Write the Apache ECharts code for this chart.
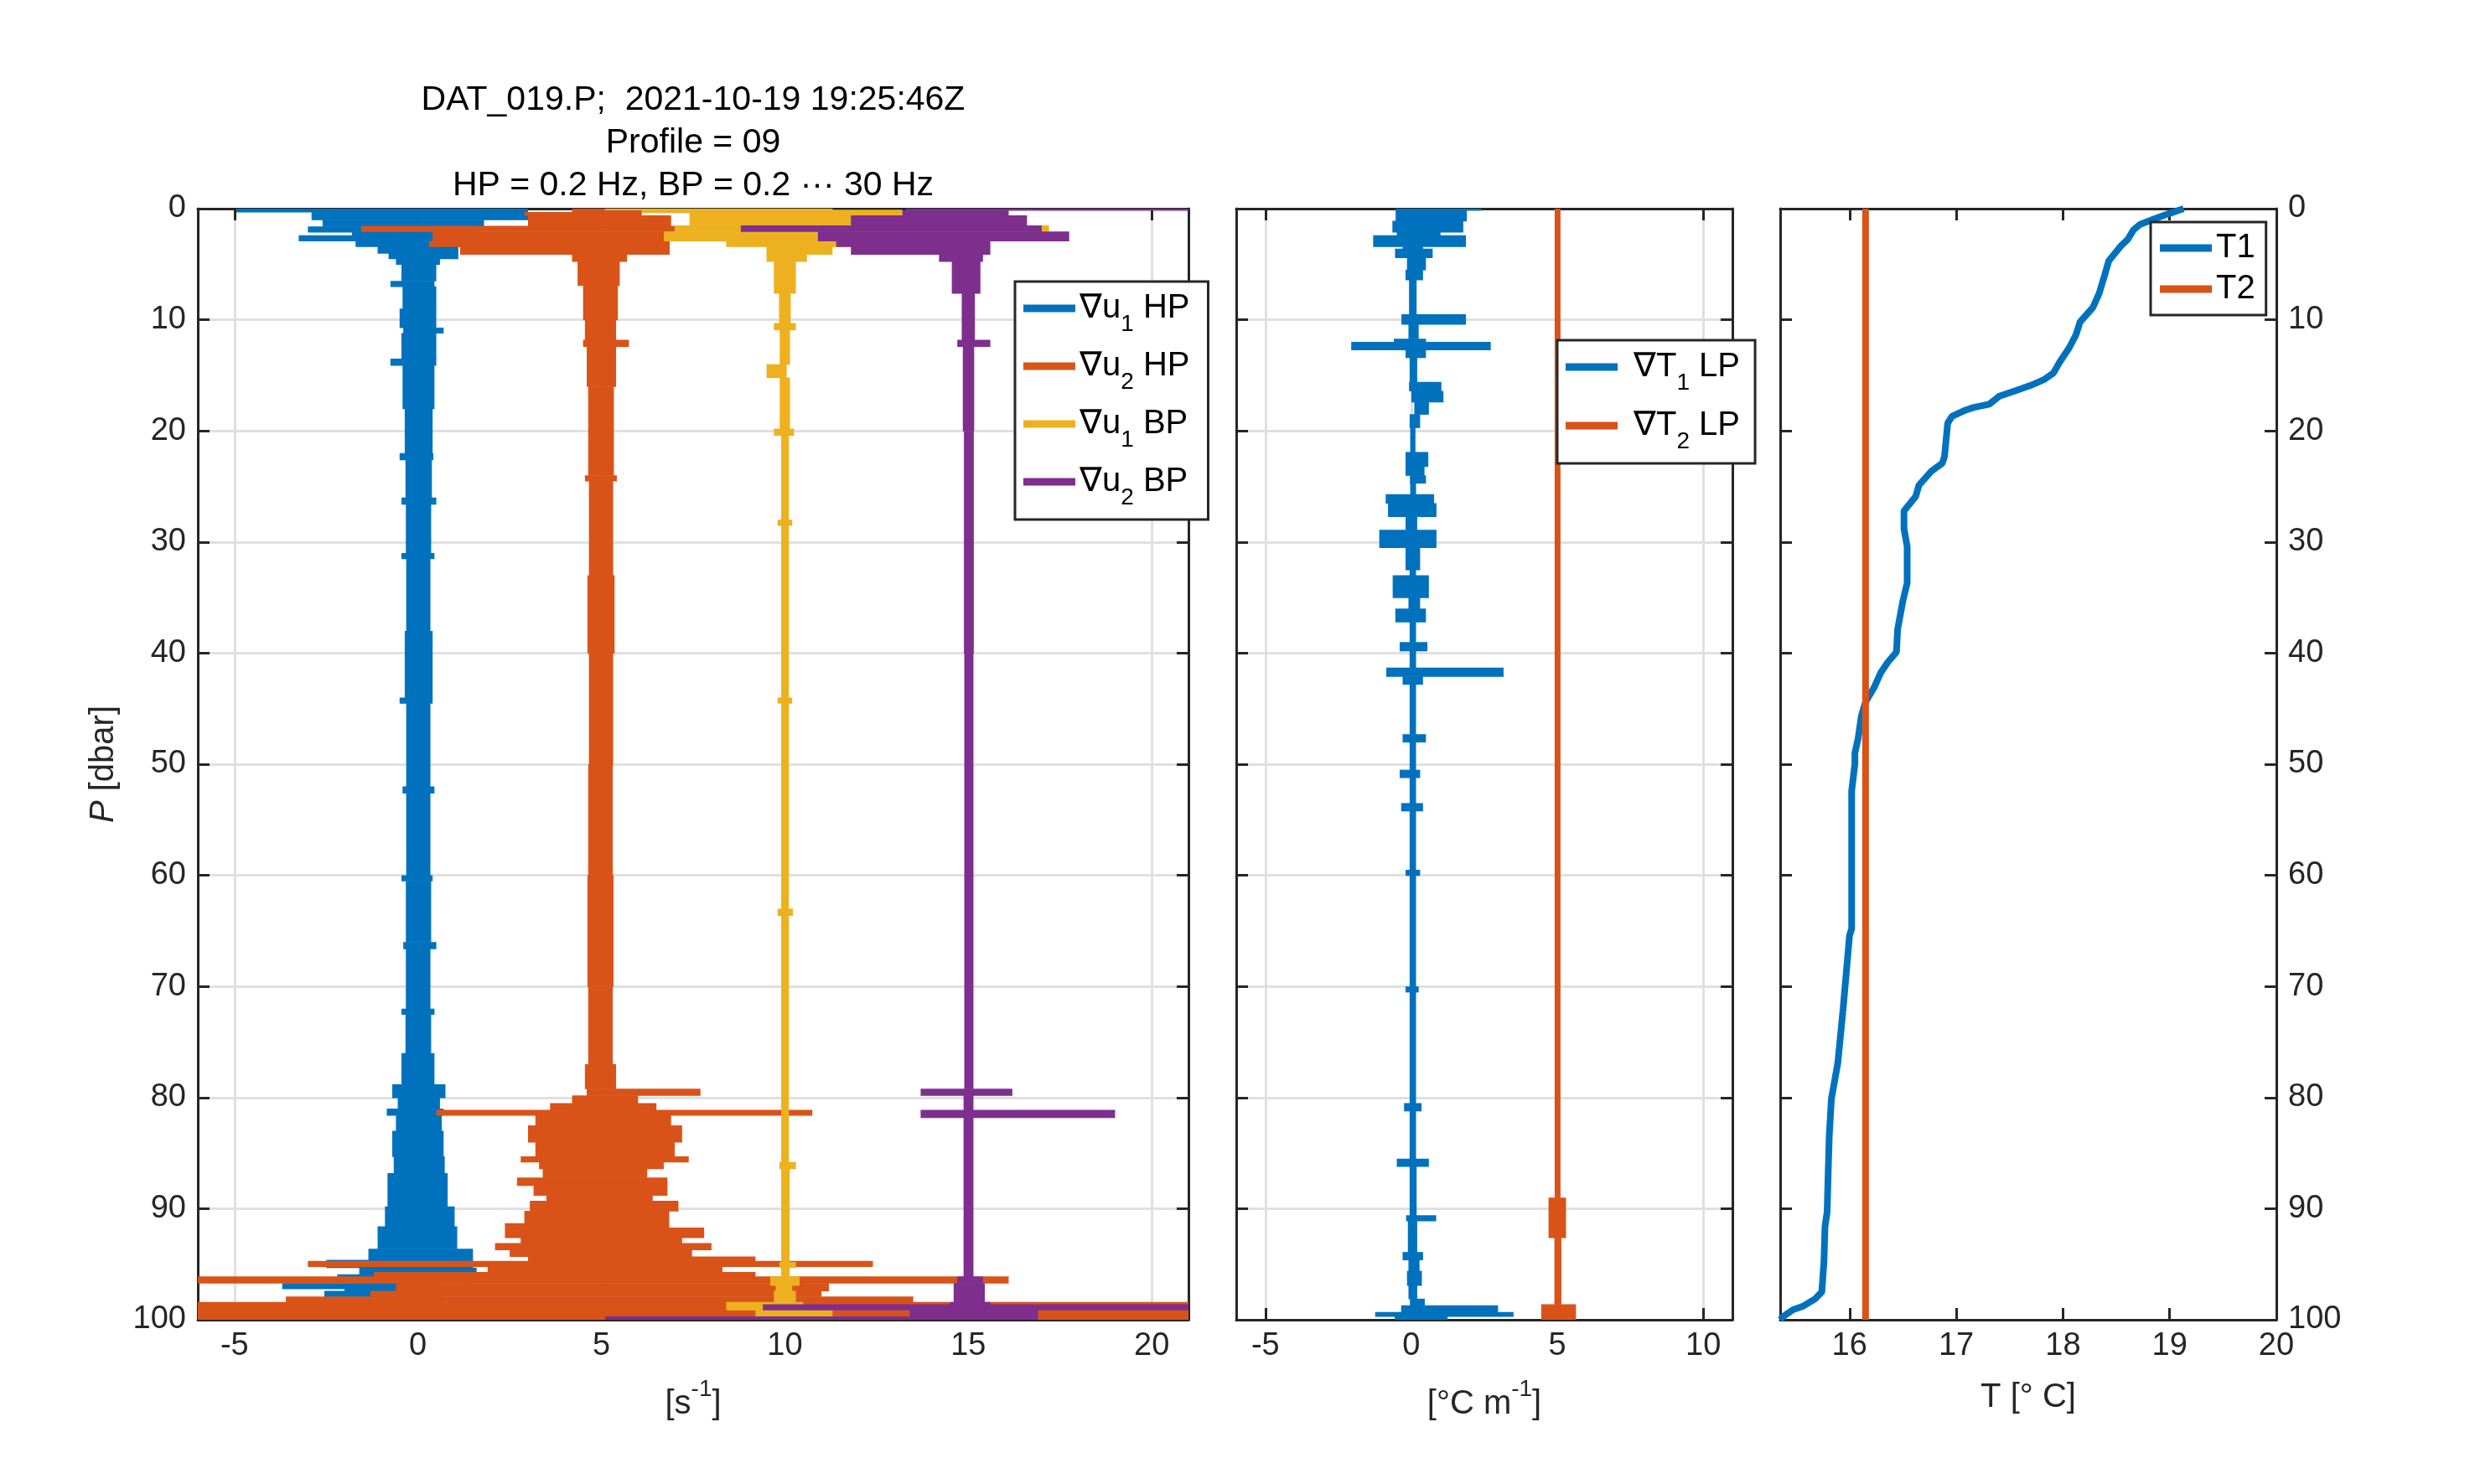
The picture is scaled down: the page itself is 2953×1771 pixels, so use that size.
<!DOCTYPE html>
<html><head><meta charset="utf-8">
<script src="https://cdn.jsdelivr.net/npm/echarts@6/dist/echarts.min.js"></script>
<style>html,body{margin:0;padding:0;background:#fff}#c{width:2953px;height:1771px}</style>
</head><body><div id="c"></div>
<script>
const FONT = '"Liberation Sans", Arial, Helvetica, sans-serif';
const C_BLUE = '#0072BD', C_ORANGE = '#D95319', C_YELLOW = '#EDB120', C_PURPLE = '#7E2F8E';
const AX = '#262626', GRIDC = '#e0e0e0';

// ---- tick labels ----
const pTicks = [0,10,20,30,40,50,60,70,80,90,100];
const shearTicks = [-5,0,5,10,15,20];
const gradTTicks = [-5,0,5,10];
const tempTicks = [16,17,18,19,20];

// ---- shear probe traces: [pressure where segment starts, left extent, right extent] ----
const u1HP = [
 [0,-4.95,3.0],[0.3,-2.9,3.0],[1.0,-2.6,1.8],[1.6,-3.0,1.6],[2.1,-1.8,1.5],[2.4,-3.25,1.5],
 [2.9,-1.7,1.9],[3.4,-1.1,1.1],[4.0,-0.8,1.1],[4.5,-0.6,0.6],[5.0,-0.45,0.5],[6.5,-0.75,0.45],
 [7.0,-0.42,0.5],[9.0,-0.5,0.5],[10.7,-0.4,0.7],[11.2,-0.45,0.5],[13.5,-0.75,0.5],[14.1,-0.42,0.45],
 [18.0,-0.36,0.4],[22.0,-0.5,0.42],[22.6,-0.34,0.38],[26.0,-0.45,0.5],[26.6,-0.33,0.36],
 [31.0,-0.45,0.45],[31.5,-0.32,0.34],[38.0,-0.36,0.4],[44.0,-0.5,0.4],[44.5,-0.32,0.34],
 [52.0,-0.42,0.45],[52.6,-0.32,0.34],[60.0,-0.45,0.4],[60.5,-0.33,0.36],[66.0,-0.4,0.5],
 [66.6,-0.33,0.34],[72.0,-0.45,0.45],[72.5,-0.34,0.36],[76.0,-0.45,0.45],[78.8,-0.7,0.75],
 [80.0,-0.55,0.6],[81.0,-0.85,0.7],[81.6,-0.6,0.65],[83.0,-0.7,0.7],[85.3,-0.66,0.73],
 [86.8,-0.83,0.81],[89.8,-0.9,1.0],[91.6,-1.1,1.07],[93.6,-1.35,1.5],[94.6,-2.5,1.5],
 [95.3,-1.6,1.6],[95.9,-2.2,1.4],[96.7,-3.7,0.55],[97.2,-2.0,0.6],[97.4,-2.55,0.7],
 [98.0,-1.5,0.8],[98.4,-1.0,1.0]
];
const u2HP = [
 [0,4.2,6.5],[0.3,2.9,6.1],[0.6,3.0,6.9],[1.55,-1.55,7.0],[2.05,0.4,6.8],[2.9,0.3,6.86],
 [3.4,1.15,6.86],[4.1,4.2,5.7],[4.75,4.35,5.5],[6.9,4.5,5.45],[10.0,4.55,5.4],[11.8,4.5,5.75],
 [12.4,4.6,5.4],[16.0,4.64,5.34],[24.0,4.55,5.42],[24.5,4.66,5.32],[33.0,4.62,5.36],
 [40.0,4.66,5.32],[50.0,4.64,5.31],[60.0,4.62,5.33],[70.0,4.64,5.31],[77.0,4.55,5.4],
 [79.2,4.6,7.7],[79.8,4.2,6.0],[80.5,3.6,6.5],[81.1,0.5,10.75],[81.6,3.2,6.9],[82.5,3.0,7.2],
 [84.0,3.2,7.0],[85.3,2.8,7.38],[85.8,3.3,6.7],[86.4,3.4,6.25],[87.2,2.7,6.8],[87.9,3.15,6.8],
 [88.8,3.5,6.4],[89.3,3.05,7.1],[90.2,2.9,6.85],[91.3,2.37,6.85],[91.7,2.37,7.8],[92.6,2.8,7.2],
 [93.1,2.1,8.0],[93.7,2.5,7.47],[94.3,3.0,9.2],[94.7,-3.0,12.4],[95.2,1.9,8.3],[95.7,-1.2,9.2],
 [96.1,-6.0,16.1],[96.7,-0.6,11.2],[97.4,-1.3,11.0],[97.9,-3.6,13.5],[98.4,-6.0,21.0]
];
const u1BP = [
 [0,5.1,11.3],[0.1,6.1,13.2],[0.35,7.4,13.2],[1.5,7.0,17.2],[2.05,6.7,11.8],[2.9,8.4,11.8],
 [3.4,9.5,11.3],[4.1,9.5,10.6],[4.75,9.7,10.3],[7.6,9.84,10.16],[10.3,9.7,10.3],[10.9,9.86,10.14],
 [14.0,9.5,10.05],[15.2,9.86,10.14],[19.8,9.7,10.25],[20.4,9.9,10.11],[28.0,9.8,10.2],
 [28.5,9.9,10.11],[44.0,9.8,10.2],[44.5,9.9,10.11],[63.0,9.8,10.22],[63.6,9.9,10.11],
 [85.8,9.85,10.3],[86.4,9.9,10.13],[94.8,9.85,10.3],[95.3,9.9,10.13],[96.1,9.6,10.4],
 [96.9,9.75,10.2],[97.4,9.7,10.3],[98.4,8.4,10.5],[99.1,9.2,11.3],[99.7,9.5,10.5]
];
const u2BP = [
 [0,13.3,21.0],[0.15,13.2,16.1],[0.6,11.8,16.6],[1.5,8.8,17.0],[2.05,10.9,17.75],[2.9,11.4,15.6],
 [3.4,11.8,15.6],[4.1,14.2,15.4],[4.75,14.55,15.33],[7.6,14.82,15.18],[11.8,14.7,15.6],
 [12.4,14.85,15.16],[20.0,14.88,15.15],[40.0,14.89,15.14],[60.0,14.89,15.14],[79.2,13.7,16.2],
 [79.8,14.87,15.14],[81.1,13.7,19.0],[81.8,14.87,15.14],[96.1,14.7,15.4],[96.7,14.6,15.45],
 [98.4,14.5,15.6],[98.6,9.4,21.0],[99.1,13.4,16.9],[99.7,5.1,16.9]
];

// ---- temperature gradient traces ----
const dT1 = [
 [0,-0.55,2.4],[0.15,-0.54,1.9],[1.1,-0.65,1.78],[2.1,-0.5,1.0],[2.4,-1.31,1.87],[3.4,-0.3,0.4],
 [3.6,-0.56,0.73],[4.4,-0.15,0.5],[5.5,-0.2,0.4],[6.4,-0.08,0.18],[9.5,-0.34,1.87],[10.4,-0.1,0.25],
 [11.7,-0.6,0.5],[12.0,-2.06,2.72],[12.7,-0.2,0.5],[13.4,-0.06,0.2],[15.6,-0.08,1.03],
 [16.4,0.0,1.1],[17.4,0.1,0.6],[18.5,-0.06,0.3],[19.7,-0.04,0.14],[21.9,-0.2,0.58],
 [23.2,-0.2,0.45],[24.0,-0.05,0.5],[24.7,-0.04,0.16],[25.7,-0.88,0.78],[26.5,-0.8,0.86],
 [27.7,-0.2,0.2],[28.9,-1.1,0.86],[30.5,-0.2,0.3],[32.5,-0.06,0.16],[33.0,-0.64,0.6],
 [35.0,-0.1,0.3],[36.0,-0.55,0.5],[37.2,-0.06,0.16],[39.0,-0.4,0.55],[39.8,-0.06,0.16],
 [41.3,-0.86,3.16],[42.1,-0.3,0.4],[42.8,-0.06,0.16],[47.3,-0.3,0.5],[48.0,-0.06,0.16],
 [50.5,-0.4,0.3],[51.2,-0.06,0.16],[53.5,-0.35,0.4],[54.2,-0.06,0.16],[59.5,-0.2,0.3],
 [60.0,-0.06,0.16],[70.0,-0.2,0.25],[70.5,-0.06,0.16],[80.5,-0.25,0.35],[81.2,-0.06,0.16],
 [85.5,-0.5,0.6],[86.2,-0.06,0.18],[90.6,-0.18,0.85],[91.1,-0.12,0.2],[93.9,-0.3,0.4],
 [94.6,-0.1,0.28],[95.6,-0.15,0.36],[96.9,-0.1,0.2],[98.1,-0.05,0.46],[98.7,-0.35,2.97],
 [99.3,-1.24,3.5],[99.7,-0.57,1.24]
];
const dT2 = [
 [0,4.91,5.11],[89.0,4.7,5.3],[92.6,4.9,5.14],[98.6,4.45,5.64]
];

// ---- temperature profiles ----
const T1_p = [0,0.46,0.94,1.43,1.92,2.74,3.39,4.69,6.0,7.6,8.9,10.2,11.4,12.5,13.8,14.8,15.4,15.9,16.4,16.9,
 17.6,17.9,18.2,18.7,19.3,20.3,22.3,22.9,23.6,24.9,25.9,27.2,28.8,30.4,33.7,35.3,37.9,39.9,40.8,41.8,
 43.1,44.4,45.7,47.7,49.0,50.0,52.4,58.9,64.8,65.4,68.7,72.0,76.9,78.5,80.1,83.4,86.7,90.3,91.6,94.8,
 97.5,98.1,98.8,99.1,99.7,100];
const T1_T = [19.13,18.99,18.85,18.72,18.66,18.61,18.54,18.43,18.39,18.34,18.28,18.16,18.12,18.06,17.97,17.91,
 17.82,17.70,17.55,17.40,17.31,17.16,17.07,16.96,16.92,16.91,16.89,16.87,16.77,16.65,16.62,16.51,16.51,
 16.54,16.54,16.50,16.45,16.44,16.36,16.29,16.23,16.15,16.11,16.08,16.05,16.05,16.02,16.02,16.02,16.0,
 15.97,15.94,15.89,15.86,15.83,15.81,15.80,15.79,15.77,15.76,15.74,15.68,15.56,15.47,15.38,15.35];
const T2_p = [0,100];
const T2_T = [16.15,16.15];

// ---------------------------------------------------------------
function segRects(segs){
  return segs.map((s,i)=>[s[1], s[2], s[0], i+1<segs.length ? segs[i+1][0] : 100]);
}
function envSeries(name, segs, color, axisIdx){
  return {
    type:'custom', name, xAxisIndex:axisIdx, yAxisIndex:axisIdx, clip:true, silent:true,
    itemStyle:{color}, encode:{x:[0,1], y:[2,3]}, data:segRects(segs),
    renderItem:(params, api)=>{
      const a = api.coord([api.value(0), api.value(2)]);
      const b = api.coord([api.value(1), api.value(3)]);
      const x = Math.min(a[0],b[0]), y = Math.min(a[1],b[1]);
      return {type:'rect', shape:{x, y, width:Math.max(Math.abs(b[0]-a[0]),3), height:Math.abs(b[1]-a[1])+0.6},
              style:{fill:color}};
    }
  };
}
const tickStyle = {show:true, inside:true, length:14, lineStyle:{color:AX, width:3}};
const lineStyleAx = {show:true, onZero:false, lineStyle:{color:AX, width:3}};
const splitStyle = (show)=>({show, lineStyle:{color:GRIDC, width:3}});
const fmt = (list)=> (v)=> list.includes(Math.round(v*1000)/1000) ? String(v) : '';

function xAxes(grid, min, max, iv, ticks, showSplit, name, nameGap){
  const common = {type:'value', gridIndex:grid, min, max, splitNumber:5, minInterval:iv, maxInterval:iv};
  return [
    Object.assign({}, common, {position:'bottom', axisLine:lineStyleAx, axisTick:tickStyle,
      axisLabel:{show:true, margin:13, color:AX, fontSize:38, fontFamily:FONT, formatter:fmt(ticks),
                 showMinLabel:false, showMaxLabel: ticks.includes(max)},
      splitLine:splitStyle(showSplit),
      name, nameLocation:'middle', nameGap,
      nameTextStyle:{fontSize:40, lineHeight:64, fontFamily:FONT, color:AX,
        rich:{sup:{fontSize:28, lineHeight:28, verticalAlign:'top', fontFamily:FONT, color:AX}}}}),
    Object.assign({}, common, {position:'top', axisLine:lineStyleAx, axisTick:tickStyle,
      axisLabel:{show:false}, splitLine:{show:false}})
  ];
}
function yAxes(grid, labelSide, showSplit){
  const common = {type:'value', gridIndex:grid, min:0, max:100, interval:10, inverse:true};
  const lab = (side)=>({show: labelSide===side, margin:14, color:AX, fontSize:38, fontFamily:FONT, formatter:fmt(pTicks)});
  const left = Object.assign({}, common, {position:'left', axisLine:lineStyleAx, axisTick:tickStyle,
      axisLabel:lab('left'), splitLine:splitStyle(showSplit)});
  if (grid===0) Object.assign(left, {name:'{it|P} [dbar]', nameLocation:'middle', nameGap:92,
      nameTextStyle:{fontSize:40, fontFamily:FONT, color:AX,
        rich:{it:{fontStyle:'italic', fontSize:40, fontFamily:FONT, color:AX}}}});
  return [left,
    Object.assign({}, common, {position:'right', axisLine:lineStyleAx, axisTick:tickStyle,
      axisLabel:lab('right'), splitLine:{show:false}})];
}

const legendRich = {
  n:{fontSize:40, lineHeight:66, fontFamily:FONT, color:'#000'},
  n2:{fontSize:40, lineHeight:66, fontFamily:FONT, color:'#000', padding:[0,0,0,14]},
  s:{fontSize:28, lineHeight:28, verticalAlign:'bottom', fontFamily:FONT, color:'#000'}
};
const legendLabel = {
  '∇u1 HP':'{n|∇u}{s|1}{n| HP}', '∇u2 HP':'{n|∇u}{s|2}{n| HP}',
  '∇u1 BP':'{n|∇u}{s|1}{n| BP}', '∇u2 BP':'{n|∇u}{s|2}{n| BP}',
  '∇T1 LP':'{n2|∇T}{s|1}{n| LP}', '∇T2 LP':'{n2|∇T}{s|2}{n| LP}'
};
const legendBase = {orient:'vertical', icon:'rect', itemWidth:62, itemHeight:9, selectedMode:false,
  backgroundColor:'#fff', borderColor:AX, borderWidth:3, borderRadius:0};

const chart = echarts.init(document.getElementById('c'), null, {renderer:'canvas'});
chart.setOption({
  animation:false,
  backgroundColor:'#fff',
  title:{text:'DAT_019.P;  2021-10-19 19:25:46Z\nProfile = 09\nHP = 0.2 Hz, BP = 0.2 ··· 30 Hz',
    left:827, top:94, textAlign:'center', padding:0,
    textStyle:{fontSize:41, lineHeight:51, fontWeight:'normal', fontFamily:FONT, color:'#000'}},
  grid:[
    {left:236, top:249, width:1182, height:1326},
    {left:1475, top:249, width:592, height:1326},
    {left:2124, top:249, width:592, height:1326}
  ],
  xAxis:[].concat(
    xAxes(0, -6, 21, 5, shearTicks, true, '[s{sup|-1}]', 69),
    xAxes(1, -6, 11, 5, gradTTicks, true, '[°C m{sup|-1}]', 69),
    xAxes(2, 15.35, 20, 1, tempTicks, false, 'T [° C]', 61)
  ),
  yAxis:[].concat(yAxes(0,'left',true), yAxes(1,'none',true), yAxes(2,'right',false)),
  legend:[
    Object.assign({}, legendBase, {data:['∇u1 HP','∇u2 HP','∇u1 BP','∇u2 BP'], left:1211, top:336,
      padding:[12,22,12,10], itemGap:16, formatter:(n)=>legendLabel[n], textStyle:{rich:legendRich, fontSize:40, fontFamily:FONT}}),
    Object.assign({}, legendBase, {data:['∇T1 LP','∇T2 LP'], left:1858, top:406,
      padding:[12,18,12,10], itemGap:17, formatter:(n)=>legendLabel[n], textStyle:{rich:legendRich, fontSize:40, fontFamily:FONT}}),
    Object.assign({}, legendBase, {data:['T1','T2'], left:2566, top:265,
      padding:[11,13,11,11], itemGap:9, textStyle:{fontSize:40, lineHeight:40, fontFamily:FONT, color:'#000'}})
  ],
  series:[
    envSeries('∇u1 HP', u1HP, C_BLUE, 0),
    envSeries('∇u2 HP', u2HP, C_ORANGE, 0),
    envSeries('∇u1 BP', u1BP, C_YELLOW, 0),
    envSeries('∇u2 BP', u2BP, C_PURPLE, 0),
    envSeries('∇T1 LP', dT1, C_BLUE, 2),
    envSeries('∇T2 LP', dT2, C_ORANGE, 2),
    {type:'line', name:'T1', xAxisIndex:4, yAxisIndex:4, showSymbol:false, symbol:'none', clip:true,
     itemStyle:{color:C_BLUE}, lineStyle:{color:C_BLUE, width:8},
     data:T1_p.map((p,i)=>[T1_T[i], p])},
    {type:'line', name:'T2', xAxisIndex:4, yAxisIndex:4, showSymbol:false, symbol:'none', clip:true,
     itemStyle:{color:C_ORANGE}, lineStyle:{color:C_ORANGE, width:8},
     data:T2_p.map((p,i)=>[T2_T[i], p])}
  ]
});
</script></body></html>
